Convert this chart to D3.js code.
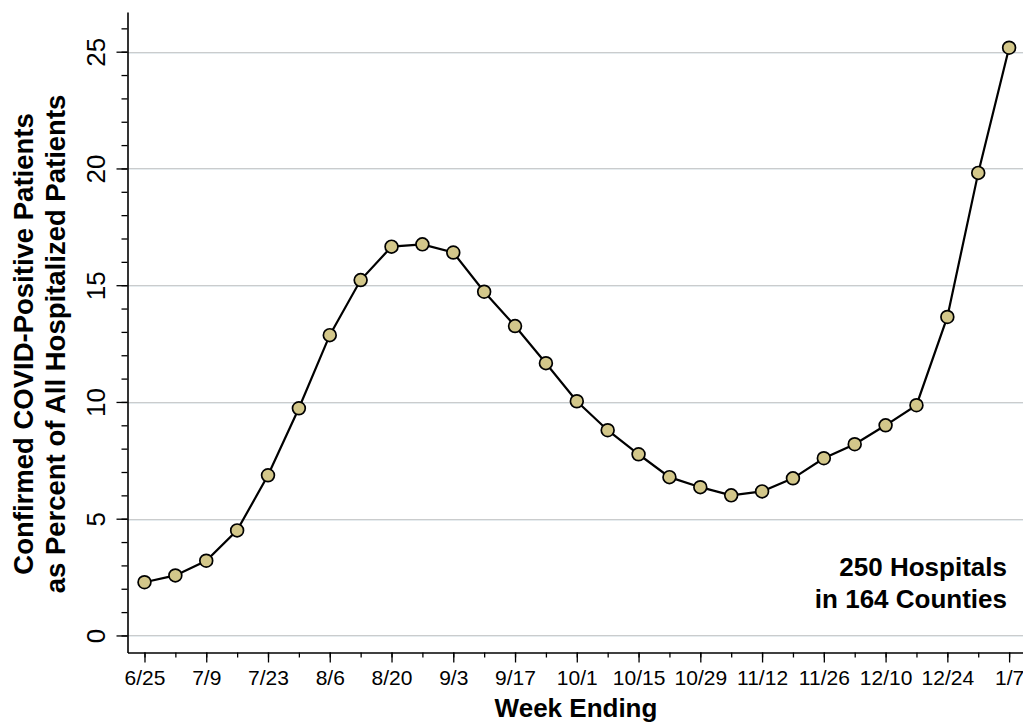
<!DOCTYPE html>
<html>
<head>
<meta charset="utf-8">
<script src="https://cdn.jsdelivr.net/npm/d3@7"></script>
<style>
  html, body { margin: 0; padding: 0; background: #fff; }
  svg { display: block; font-family: "Liberation Sans", Arial, Helvetica, sans-serif; }
</style>
</head>
<body>
<svg id="chart" width="1023" height="724"></svg>
<script>
const weeks = ["6/25","7/2","7/9","7/16","7/23","7/30","8/6","8/13","8/20","8/27","9/3","9/10","9/17","9/24","10/1","10/8","10/15","10/22","10/29","11/5","11/12","11/19","11/26","12/3","12/10","12/17","12/24","12/31","1/7"];
const percentValues = [2.28, 2.57, 3.2, 4.5, 6.86, 9.73, 12.86, 15.22, 16.65, 16.75, 16.4, 14.72, 13.25, 11.66, 10.03, 8.79, 7.76, 6.78, 6.35, 6.0, 6.17, 6.73, 7.59, 8.19, 9.0, 9.86, 13.64, 19.81, 25.17];
const yMajorTicks = [0, 5, 10, 15, 20, 25];
const yMinorTicks = d3.range(0, 27);
const xTitle = "Week Ending";
const yTitleLines = ["Confirmed COVID-Positive Patients", "as Percent of All Hospitalized Patients"];
const noteLines = ["250 Hospitals", "in 164 Counties"];

const svg = d3.select("#chart");
const x = d3.scaleLinear().domain([-0.55, weeks.length - 1 + 0.45]).range([127.5, 1023]);
const y = d3.scaleLinear().domain([-0.73, 26.7]).range([652.5, 12]);

// gridlines
const grid = svg.append("g");
yMajorTicks.forEach(v => {
  grid.append("line").attr("x1", 128).attr("x2", 1023)
    .attr("y1", Math.round(y(v)) + 0.5).attr("y2", Math.round(y(v)) + 0.5)
    .attr("stroke", "#cacccd").attr("stroke-width", 1);
  grid.append("line").attr("x1", 128).attr("x2", 1023)
    .attr("y1", Math.round(y(v)) + 1.5).attr("y2", Math.round(y(v)) + 1.5)
    .attr("stroke", "#e6ecef").attr("stroke-width", 1);
});

// Y axis: minor ticks
const yMinor = d3.axisLeft(y).tickValues(yMinorTicks).tickSize(6).tickFormat("");
svg.append("g").attr("transform", "translate(127.5,0)").call(yMinor)
  .call(g => g.select(".domain").remove())
  .call(g => g.selectAll("line").attr("stroke", "#000").attr("stroke-width", 1.3));
// Y axis: major
const yAxis = d3.axisLeft(y).tickValues(yMajorTicks).tickSize(11).tickSizeOuter(0).tickFormat(d3.format("d"));
svg.append("g").attr("transform", "translate(127.5,0)").call(yAxis)
  .call(g => g.select(".domain").attr("stroke", "#000").attr("stroke-width", 1.6))
  .call(g => g.selectAll(".tick line").attr("stroke", "#000").attr("stroke-width", 1.3))
  .call(g => g.selectAll(".tick text")
    .attr("font-size", 26).attr("fill", "#000")
    .attr("transform", "rotate(-90)")
    .attr("x", 0).attr("y", -23).attr("dy", 0)
    .attr("text-anchor", "middle"));

// X axis: minor
const xMinor = d3.axisBottom(x).tickValues(d3.range(weeks.length)).tickSize(5).tickFormat("");
svg.append("g").attr("transform", "translate(0,652.5)").call(xMinor)
  .call(g => g.select(".domain").remove())
  .call(g => g.selectAll("line").attr("stroke", "#000").attr("stroke-width", 1.3));
// X axis: major
const xAxis = d3.axisBottom(x).tickValues(d3.range(0, weeks.length, 2)).tickSize(10).tickSizeOuter(0)
  .tickFormat(i => weeks[i]);
svg.append("g").attr("transform", "translate(0,652.5)").call(xAxis)
  .call(g => g.select(".domain").attr("stroke", "#000").attr("stroke-width", 1.6))
  .call(g => g.selectAll(".tick text").attr("font-size", 21).attr("fill", "#000")
    .attr("y", 32.5).attr("dy", 0))
  .call(g => g.selectAll(".tick line").attr("stroke", "#000").attr("stroke-width", 1.3));

// line
const line = d3.line().x((d, i) => x(i)).y(d => y(d));
svg.append("path").datum(percentValues).attr("d", line)
  .attr("fill", "none").attr("stroke", "#000").attr("stroke-width", 2.2);

// markers
svg.append("g").selectAll("circle").data(percentValues).join("circle")
  .attr("cx", (d, i) => x(i)).attr("cy", d => y(d)).attr("r", 6.4)
  .attr("fill", "#d3c78a").attr("stroke", "#000").attr("stroke-width", 1.7);

// titles
svg.append("text").attr("x", 576).attr("y", 717).attr("text-anchor", "middle")
  .attr("font-size", 26).attr("font-weight", "bold").text(xTitle);

const yt = svg.append("text").attr("transform", "translate(0,344) rotate(-90)")
  .attr("text-anchor", "middle").attr("font-size", 27.5).attr("font-weight", "bold");
yt.append("tspan").attr("x", 0).attr("y", 33).text(yTitleLines[0]);
yt.append("tspan").attr("x", 0).attr("y", 65).text(yTitleLines[1]);

const note = svg.append("text").attr("text-anchor", "end").attr("font-size", 26).attr("font-weight", "bold");
note.append("tspan").attr("x", 1007).attr("y", 576).text(noteLines[0]);
note.append("tspan").attr("x", 1007).attr("y", 608).text(noteLines[1]);
</script>
</body>
</html>
